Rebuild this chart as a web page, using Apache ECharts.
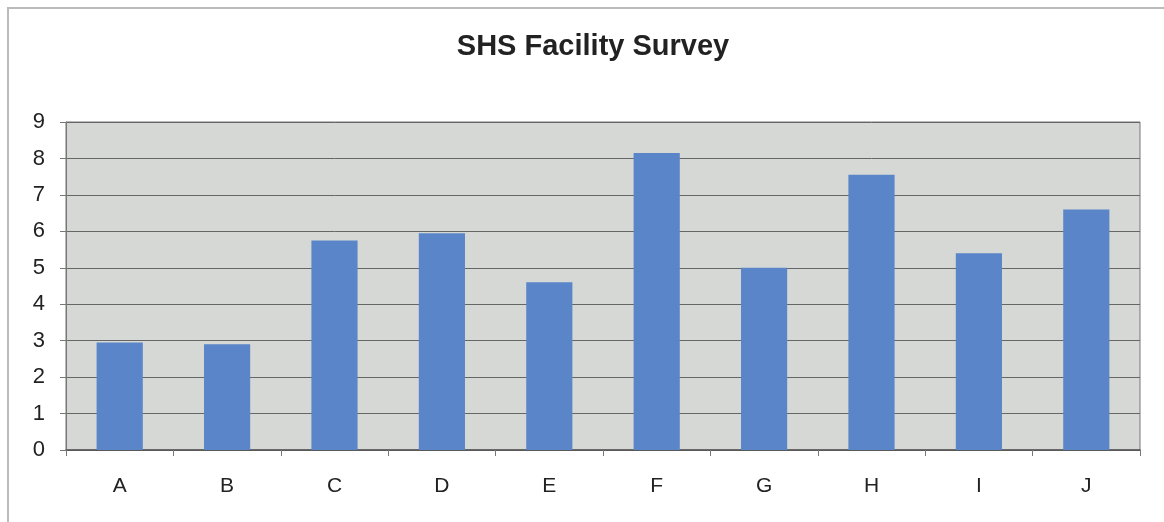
<!DOCTYPE html>
<html><head><meta charset="utf-8">
<script src="https://cdn.jsdelivr.net/npm/echarts@6/dist/echarts.min.js"></script>
<style>html,body{margin:0;padding:0;background:#fff}#c{width:1164px;height:522px}</style>
</head><body><div id="c"></div>
<script>
var title = 'SHS Facility Survey';
var categories = ['A','B','C','D','E','F','G','H','I','J'];
var values = [2.95, 2.9, 5.75, 5.95, 4.6, 8.15, 5.0, 7.55, 5.4, 6.6];
var yTicks = [0, 9, 1];
var chart = echarts.init(document.getElementById('c'));
chart.setOption({
  animation: false,
  backgroundColor: '#fff',
  graphic: [
    {type:'rect', shape:{x:8,y:8,width:1170,height:530}, style:{fill:'none', stroke:'#bbbbbb', lineWidth:2}, z:-1},
    {type:'text', x:593, y:47, style:{text:title, align:'center', verticalAlign:'middle', font:'bold 29px "Liberation Sans"', fill:'#222'}}
  ],
  grid: {left: 66, right: 24, top: 122, bottom: 72, show: true, backgroundColor:'#d6d8d6', borderColor:'#777', borderWidth:1},
  xAxis: {type:'category', data: categories,
    axisLine:{lineStyle:{color:'#555', width:1.5}},
    axisTick:{show:true, alignWithLabel:false, length:6, lineStyle:{color:'#777'}},
    axisLabel:{fontFamily:'Liberation Sans', fontSize:21, color:'#222', margin:26}},
  yAxis: {type:'value', min: yTicks[0], max: yTicks[1], interval: yTicks[2],
    axisLine:{show:true, lineStyle:{color:'#777'}},
    axisTick:{show:true, length:6, lineStyle:{color:'#777'}},
    splitLine:{lineStyle:{color:'#666', width:1}},
    axisLabel:{fontFamily:'Liberation Sans', fontSize:22, color:'#222', margin:21}},
  series: [{type:'bar', data: values, barWidth:'43%',
    itemStyle:{color:'#5a86c9', borderColor:'#3a4f70', borderWidth:0}}]
});
</script></body></html>
